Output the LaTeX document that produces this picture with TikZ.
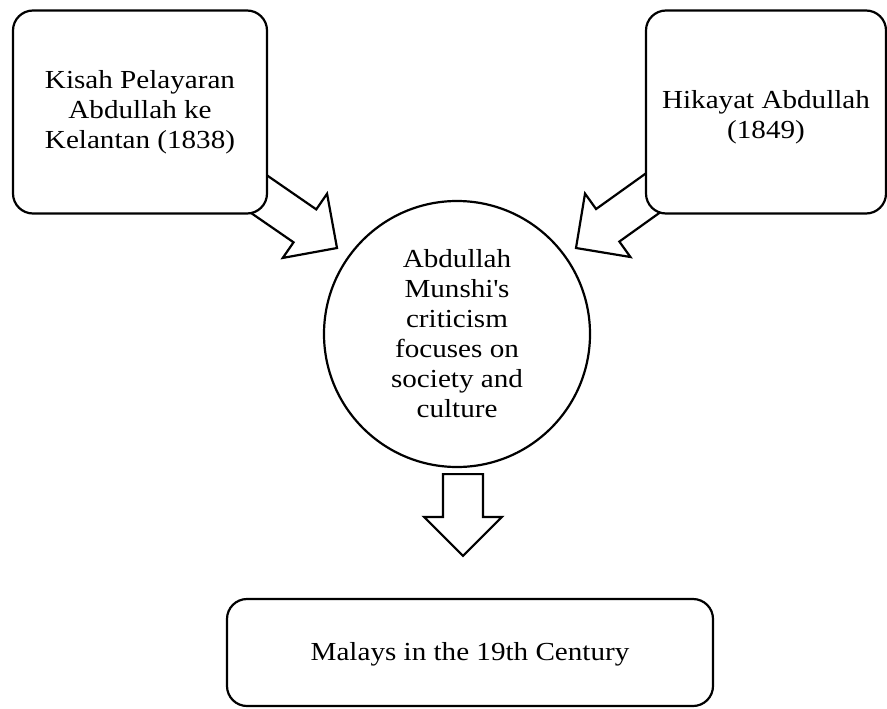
\documentclass[tikz,border=0pt]{standalone}
\usepackage{fontspec}
\setmainfont{Liberation Serif}[FakeStretch=1.12]
\usetikzlibrary{calc,backgrounds}

\begin{document}
\begin{tikzpicture}[x=0.5pt, y=0.5pt,
    texto/.style={align=center, font=\fontsize{13}{15}\selectfont, inner sep=0pt},
    caja/.style={texto, draw, fill=white, line width=1.1pt, rounded corners=10pt},
    flecha/.style={draw, fill=white, line width=1.1pt, line join=miter,
      to path={($(\tikztostart)!10pt!90:(\tikztotarget)$)
        -- ($(\tikztotarget)!19.5pt!(\tikztostart)!10pt!90:(\tikztotarget)$)
        -- ($(\tikztotarget)!19.5pt!(\tikztostart)!19.5pt!90:(\tikztotarget)$)
        -- (\tikztotarget)
        -- ($(\tikztotarget)!19.5pt!(\tikztostart)!19.5pt!-90:(\tikztotarget)$)
        -- ($(\tikztotarget)!19.5pt!(\tikztostart)!10pt!-90:(\tikztotarget)$)
        -- ($(\tikztostart)!10pt!-90:(\tikztotarget)$) -- cycle}}]
    \useasboundingbox (0,0) rectangle (887,708);

    % Fuentes
    \node[caja, minimum width=127pt, minimum height=101.5pt] (kisah) at (140,596)
        {Kisah Pelayaran\\Abdullah ke\\Kelantan (1838)};
    \node[caja, minimum width=120pt, minimum height=101.5pt] (hikayat) at (766,596)
        {\rule{0pt}{14pt}Hikayat Abdullah\\(1849)};

    % Critica
    \node[texto, draw, circle, fill=white, line width=1.1pt, minimum size=133pt] (critica) at (457,374)
        {Abdullah\\Munshi\textquotesingle s\\criticism\\focuses on\\society and\\culture};

    % Resultado
    \node[caja, minimum width=243pt, minimum height=53.5pt] (malays) at (470,55.5)
        {\rule{0pt}{11pt}Malays in the 19th Century};

    % Flechas
    \coordinate (puntaI) at (337,460);
    \coordinate (puntaD) at (576,460);
    \coordinate (colaB) at ($(critica.south)+(6,-6)$);
    \coordinate (puntaB) at ($(malays.north)+(-7,42)$);
    \begin{scope}[on background layer]
        \draw[flecha] (kisah.center) to (puntaI);
        \draw[flecha] (hikayat.center) to (puntaD);
    \end{scope}
    \draw[flecha] (colaB) to (puntaB);
\end{tikzpicture}
\end{document}
